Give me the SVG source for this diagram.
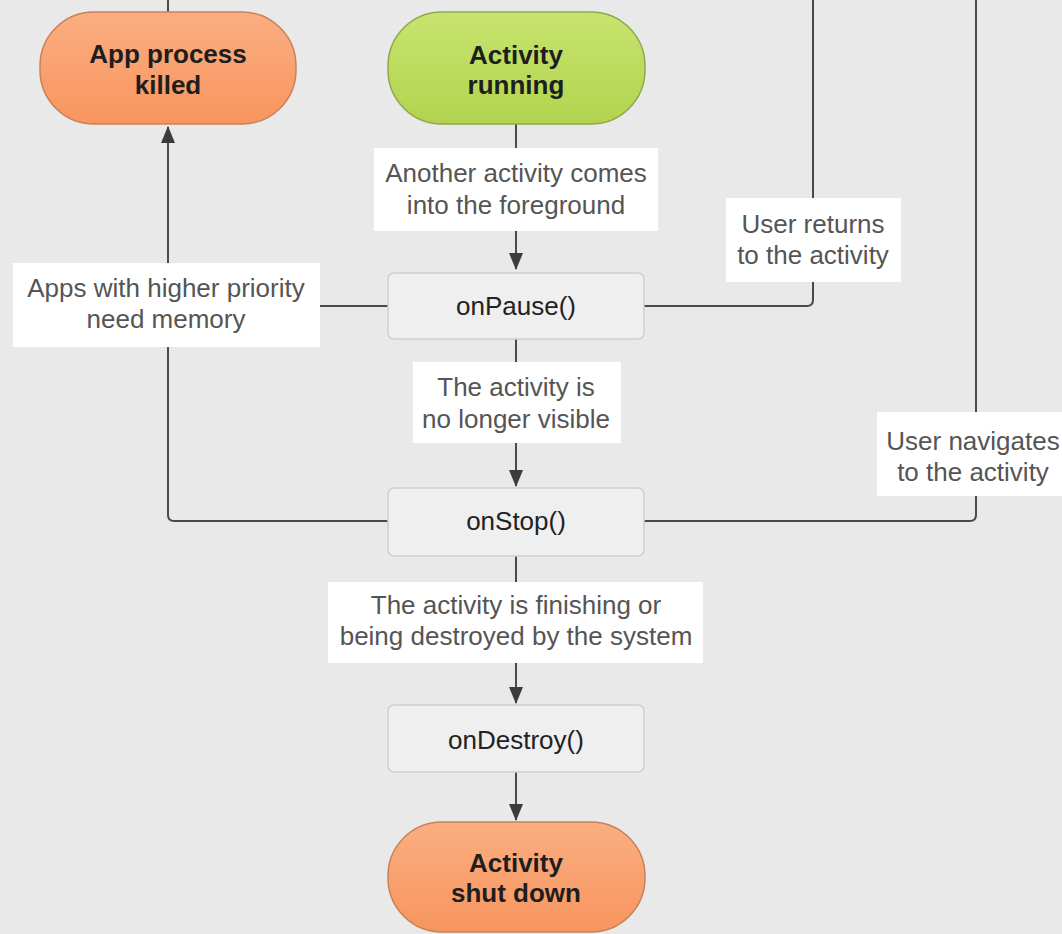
<svg xmlns="http://www.w3.org/2000/svg" width="1062" height="934" viewBox="0 0 1062 934">
  <defs>
    <linearGradient id="gOrange" x1="0" y1="0" x2="0" y2="1">
      <stop offset="0" stop-color="#fbae82"/>
      <stop offset="1" stop-color="#f7955e"/>
    </linearGradient>
    <linearGradient id="gGreen" x1="0" y1="0" x2="0" y2="1">
      <stop offset="0" stop-color="#c8e46e"/>
      <stop offset="1" stop-color="#b2d34f"/>
    </linearGradient>
    <marker id="arrow" markerUnits="userSpaceOnUse" markerWidth="17" markerHeight="15" refX="16" refY="7" orient="auto">
      <path d="M0,0 L17,7 L0,14 z" fill="#3c3c3c"/>
    </marker>
    <style>
      .edge { fill: none; stroke: #4a4a4a; stroke-width: 2; }
      .lbl-box { fill: #ffffff; }
      .lbl { font-family: "Liberation Sans", Arial, sans-serif; font-size: 26px; fill: #555555; text-anchor: middle; }
      .state-orange { fill: url(#gOrange); stroke: #c98158; stroke-width: 1.5; }
      .state-green { fill: url(#gGreen); stroke: #8fa94c; stroke-width: 1.5; }
      .state-txt { font-family: "Liberation Sans", Arial, sans-serif; font-size: 26px; font-weight: bold; fill: #1e1e1e; text-anchor: middle; }
      .method { fill: #efefef; stroke: #cfcfcf; stroke-width: 1.5; }
      .method-txt { font-family: "Liberation Sans", Arial, sans-serif; font-size: 26px; fill: #222222; text-anchor: middle; }
    </style>
  </defs>

  <rect width="1062" height="934" fill="#e9e9e9"/>

  <!-- connectors -->
  <g id="connectors">
    <path class="edge" d="M168,0 V13"/>
    <path class="edge" d="M516,124 V269" marker-end="url(#arrow)"/>
    <path class="edge" d="M516,339 V486" marker-end="url(#arrow)"/>
    <path class="edge" d="M516,556 V703" marker-end="url(#arrow)"/>
    <path class="edge" d="M516,772 V820" marker-end="url(#arrow)"/>
    <path class="edge" d="M388,306 H168"/>
    <path class="edge" d="M388,521 H174 Q168,521 168,515 V127" marker-end="url(#arrow)"/>
    <path class="edge" d="M644,306 H807 Q813,306 813,300 V0"/>
    <path class="edge" d="M644,521 H970 Q976,521 976,515 V0"/>

    <g id="label-foreground">
      <rect class="lbl-box" x="374" y="148" width="284" height="83"/>
      <text class="lbl" x="516" y="182">Another activity comes</text>
      <text class="lbl" x="516" y="214">into the foreground</text>
    </g>
    <g id="label-memory">
      <rect class="lbl-box" x="13" y="263" width="307" height="84"/>
      <text class="lbl" x="166" y="297">Apps with higher priority</text>
      <text class="lbl" x="166" y="328">need memory</text>
    </g>
    <g id="label-returns">
      <rect class="lbl-box" x="726" y="198" width="175" height="84"/>
      <text class="lbl" x="813" y="233">User returns</text>
      <text class="lbl" x="813" y="264">to the activity</text>
    </g>
    <g id="label-not-visible">
      <rect class="lbl-box" x="413" y="362" width="208" height="81"/>
      <text class="lbl" x="516" y="396">The activity is</text>
      <text class="lbl" x="516" y="428">no longer visible</text>
    </g>
    <g id="label-navigates">
      <rect class="lbl-box" x="877" y="412" width="190" height="84"/>
      <text class="lbl" x="973" y="450">User navigates</text>
      <text class="lbl" x="973" y="481">to the activity</text>
    </g>
    <g id="label-finishing">
      <rect class="lbl-box" x="328" y="582" width="375" height="81"/>
      <text class="lbl" x="516" y="614">The activity is finishing or</text>
      <text class="lbl" x="516" y="645">being destroyed by the system</text>
    </g>
  </g>

  <!-- nodes -->
  <g id="app-process-killed">
    <rect class="state-orange" x="40" y="12" width="256" height="112" rx="54"/>
    <text class="state-txt" x="168" y="63">App process</text>
    <text class="state-txt" x="168" y="94">killed</text>
  </g>
  <g id="activity-running">
    <rect class="state-green" x="388" y="12" width="257" height="112" rx="54"/>
    <text class="state-txt" x="516" y="64">Activity</text>
    <text class="state-txt" x="516" y="94">running</text>
  </g>
  <g id="on-pause">
    <rect class="method" x="388" y="273" width="256" height="66" rx="6"/>
    <text class="method-txt" x="516" y="315">onPause()</text>
  </g>
  <g id="on-stop">
    <rect class="method" x="388" y="488" width="256" height="68" rx="6"/>
    <text class="method-txt" x="516" y="530">onStop()</text>
  </g>
  <g id="on-destroy">
    <rect class="method" x="388" y="705" width="256" height="67" rx="6"/>
    <text class="method-txt" x="516" y="749">onDestroy()</text>
  </g>
  <g id="activity-shut-down">
    <rect class="state-orange" x="388" y="822" width="257" height="110" rx="54"/>
    <text class="state-txt" x="516" y="872">Activity</text>
    <text class="state-txt" x="516" y="902">shut down</text>
  </g>
</svg>
